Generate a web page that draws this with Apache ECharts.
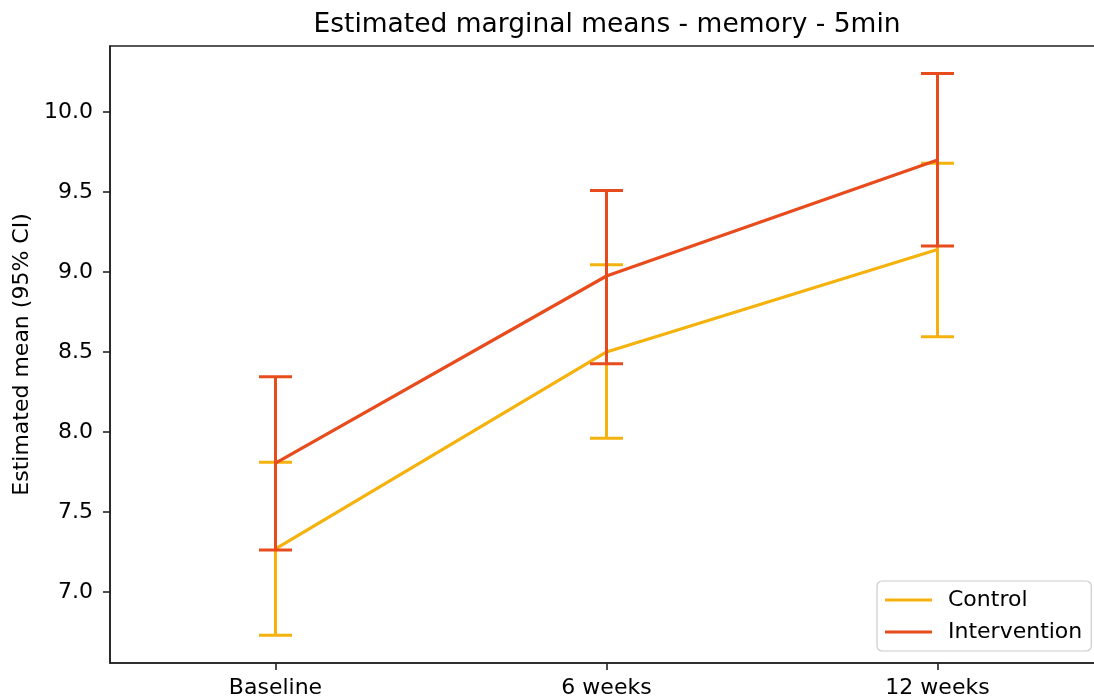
<!DOCTYPE html>
<html>
<head>
<meta charset="utf-8">
<script src="https://cdn.jsdelivr.net/npm/echarts@6/dist/echarts.min.js"></script>
<style>
html,body{margin:0;padding:0;background:#fff;}
#chart{width:1094px;height:700px;}
</style>
</head>
<body>
<div id="chart"></div>
<script>
const categories = ['Baseline', '6 weeks', '12 weeks'];
const controlMean = [7.27, 8.50, 9.14];
const controlLow = [6.73, 7.96, 8.595];
const controlHigh = [7.81, 9.045, 9.68];
const interventionMean = [7.805, 8.975, 9.70];
const interventionLow = [7.262, 8.427, 9.162];
const interventionHigh = [8.345, 9.51, 10.24];
const yTicks = [7.0, 7.5, 8.0, 8.5, 9.0, 9.5, 10.0];

const colControl = '#F5B20C';
const colInterv = '#E84C1D';
const FONT = 'DejaVu Sans';

function pts(arr) { return arr.map((v, i) => [i, v]); }
function ci(lo, hi) { return lo.map((v, i) => [i, v, hi[i]]); }

function errRender(color) {
  return function (params, api) {
    const x = api.value(0);
    const p1 = api.coord([x, api.value(1)]);
    const p2 = api.coord([x, api.value(2)]);
    const hw = 16.5;
    const st = { stroke: color, lineWidth: 3 };
    return {
      type: 'group',
      children: [
        { type: 'line', shape: { x1: p1[0], y1: p1[1], x2: p2[0], y2: p2[1] }, style: st },
        { type: 'line', shape: { x1: p1[0] - hw, y1: p1[1], x2: p1[0] + hw, y2: p1[1] }, style: st },
        { type: 'line', shape: { x1: p2[0] - hw, y1: p2[1], x2: p2[0] + hw, y2: p2[1] }, style: st }
      ]
    };
  };
}

const chart = echarts.init(document.getElementById('chart'), null, { renderer: 'canvas' });
chart.setOption({
  animation: false,
  backgroundColor: '#ffffff',
  title: {
    text: 'Estimated marginal means - memory - 5min',
    left: 602, top: 7, textAlign: 'center',
    textStyle: { fontFamily: FONT, fontSize: 26.5, fontWeight: 'normal', color: '#000' }
  },
  grid: {
    left: 110, top: 46, width: 993, bottom: 37,
    containLabel: false, outerBoundsMode: 'none',
    show: true, borderColor: '#222', borderWidth: 1.6, backgroundColor: 'transparent'
  },
  legend: {
    data: ['Control', 'Intervention'],
    orient: 'vertical',
    left: 877, top: 581,
    padding: [8, 9, 8, 8],
    itemGap: 10,
    itemWidth: 47, itemHeight: 3,
    icon: 'rect',
    backgroundColor: 'rgba(255,255,255,0.8)',
    borderColor: '#cccccc', borderWidth: 1.2, borderRadius: 5,
    textStyle: { fontFamily: FONT, fontSize: 22, color: '#000', padding: [0, 0, 0, 11] }
  },
  xAxis: {
    type: 'value', min: -0.5, max: 2.5,
    splitLine: { show: false },
    axisLine: { show: true, onZero: false, lineStyle: { color: '#222', width: 1.6 } },
    axisTick: { show: true, length: 7, lineStyle: { color: '#222', width: 1.6 }, customValues: [0, 1, 2] },
    axisLabel: {
      customValues: [0, 1, 2],
      formatter: v => categories[Math.round(v)] || '',
      fontFamily: FONT, fontSize: 22, color: '#000', margin: 14
    }
  },
  yAxis: {
    type: 'value', min: 6.556, max: 10.4125,
    name: 'Estimated mean (95% CI)',
    nameLocation: 'middle', nameGap: 72, nameRotate: 90,
    nameTextStyle: { fontFamily: FONT, fontSize: 22, color: '#000' },
    splitLine: { show: false },
    axisLine: { show: true, onZero: false, lineStyle: { color: '#222', width: 1.6 } },
    axisTick: { show: true, length: 7, lineStyle: { color: '#222', width: 1.6 }, customValues: yTicks },
    axisLabel: {
      customValues: yTicks,
      formatter: v => v.toFixed(1),
      fontFamily: FONT, fontSize: 22, color: '#000', margin: 17
    }
  },
  series: [
    {
      name: 'Control', type: 'line', data: pts(controlMean), color: colControl,
      showSymbol: false, symbol: 'none', lineStyle: { color: colControl, width: 3.2 }, z: 2
    },
    {
      name: 'Control CI', type: 'custom', data: ci(controlLow, controlHigh),
      renderItem: errRender(colControl), encode: { x: 0, y: [1, 2] }, z: 3
    },
    {
      name: 'Intervention', type: 'line', data: pts(interventionMean), color: colInterv,
      showSymbol: false, symbol: 'none', lineStyle: { color: colInterv, width: 3.2 }, z: 4
    },
    {
      name: 'Intervention CI', type: 'custom', data: ci(interventionLow, interventionHigh),
      renderItem: errRender(colInterv), encode: { x: 0, y: [1, 2] }, z: 5
    }
  ]
});
</script>
</body>
</html>
